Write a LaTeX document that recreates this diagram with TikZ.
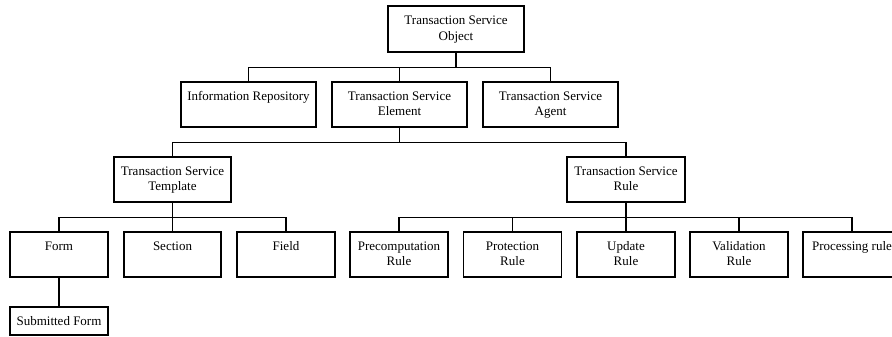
\documentclass[tikz,border=0pt]{standalone}
\usepackage{fontspec}
\setmainfont{Liberation Serif}
\usetikzlibrary{positioning}
\tikzset{
    mybox/.style = {rectangle, draw=black, line width=1.2pt, align=center, inner sep=0pt,
        minimum width=135pt, minimum height=45pt, text height=33.7pt, text depth=11.3pt,
        font=\fontsize{13}{15.7}\selectfont},
    single/.style = {text height=18pt, text depth=27pt},
    midbox/.style = {mybox, minimum width=117pt},
    leafbox/.style = {mybox, minimum width=98pt},
    flatbox/.style = {leafbox, minimum height=28pt, text height=18pt, text depth=10pt},
    edgen/.style = {draw=black, line width=1.2pt},
}

\begin{document}
\begin{tikzpicture}[x=1pt,y=-1pt]
\useasboundingbox (0,0) rectangle (892,337);
\node[mybox, minimum width=136pt, minimum height=46pt] at (456,29) (root) {Transaction Service\\Object};
%
\node[mybox, single] at (248.5,104.5) (info) {Information Repository};
\node[mybox] at (399.5,104.5) (elem) {Transaction Service\\Element};
\node[mybox] at (550.5,104.5) (agent) {Transaction Service\\Agent};
%
\node[midbox] at (172.5,179.5) (tmpl) {Transaction Service\\Template};
\node[midbox, minimum width=118pt] at (626,179.5) (rule) {Transaction Service\\Rule};
%
\node[leafbox, single] at (59,254.5) (form) {Form};
\node[leafbox, single, minimum width=97pt] at (172.5,254.5) (section) {Section};
\node[leafbox, single] at (286,254.5) (field) {Field};
\node[leafbox] at (399,254.5) (precomp) {Precomputation\\Rule};
\node[leafbox] at (512.5,254.5) (protect) {Protection\\Rule};
\node[leafbox] at (626,254.5) (update) {Update\\Rule};
\node[leafbox] at (739,254.5) (valid) {Validation\\Rule};
\node[leafbox, single] at (852,254.5) (proc) {Processing rule};
%
\node[flatbox] at (59,321) (subform) {Submitted Form};
%
\foreach \c in {info,elem,agent}
    \draw[edgen] (root.south) -- ++(0,15) -| (\c.north);
\foreach \c in {tmpl,rule}
    \draw[edgen] (elem.south) -- ++(0,15) -| (\c.north);
\foreach \c in {form,section,field}
    \draw[edgen] (tmpl.south) -- ++(0,15) -| (\c.north);
\foreach \c in {precomp,protect,update,valid,proc}
    \draw[edgen] (rule.south) -- ++(0,15) -| (\c.north);
\draw[edgen] (form) -- (subform);

\end{tikzpicture}
\end{document}
